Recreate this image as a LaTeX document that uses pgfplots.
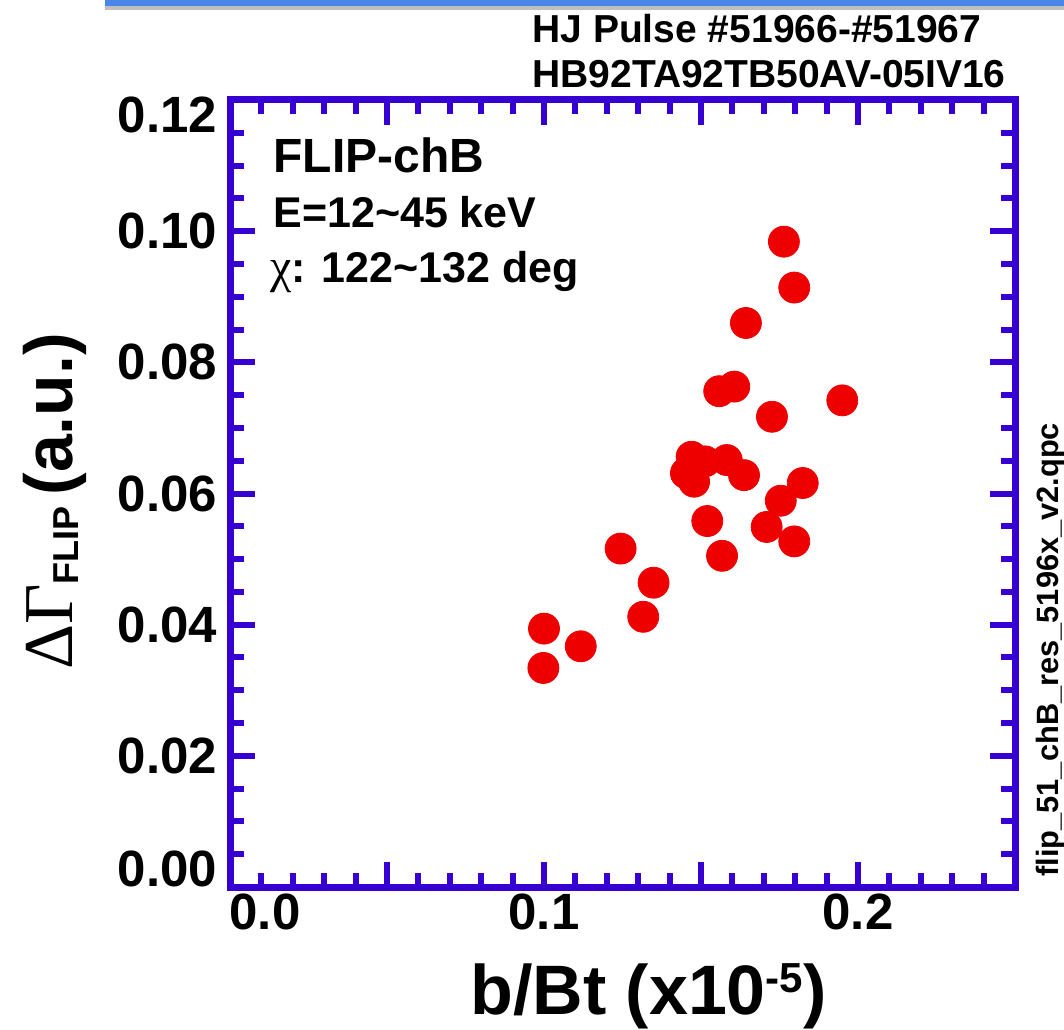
\documentclass[border=0pt]{standalone}
\usepackage{fontspec}
\setmainfont{Liberation Sans}
\newfontfamily\greek{Liberation Serif}
\usepackage{pgfplots}
\pgfplotsset{compat=1.18}
\definecolor{axblue}{RGB}{55,0,210}
\definecolor{ptred}{RGB}{238,0,0}
\definecolor{barblue}{RGB}{74,134,232}

\pgfplotstableread{
x y
0.1764 0.0984
0.1797 0.0914
0.1643 0.0860
0.1558 0.0756
0.1606 0.0763
0.1950 0.0742
0.1726 0.0717
0.1470 0.0656
0.1513 0.0649
0.1582 0.0651
0.1452 0.0631
0.1478 0.0618
0.1637 0.0628
0.1824 0.0616
0.1754 0.0589
0.1520 0.0558
0.1709 0.0549
0.1797 0.0527
0.1567 0.0505
0.1244 0.0516
0.1349 0.0464
0.1316 0.0412
0.1000 0.0394
0.1117 0.0367
0.0998 0.0334
}\flipdata

\begin{document}
\begin{tikzpicture}
\path[use as bounding box] (0,0) rectangle (532pt,514.5pt);
\fill[black!25] (52.5pt,511.5pt) rectangle (532pt,509.5pt);
\fill[barblue] (52.5pt,514.5pt) rectangle (532pt,511.5pt);

\begin{axis}[
  scale only axis,
  width=392.5pt, height=393.5pt,
  at={(115pt,71pt)}, anchor=south west,
  xmin=0, xmax=0.25, ymin=0, ymax=0.12,
  axis line style={axblue, line width=3.5pt},
  tick style={axblue, line width=3pt},
  major tick length=12.5pt,
  minor tick length=7pt,
  tick align=inside,
  xtick pos=both, ytick pos=both,
  xtick={0,0.05,0.1,0.15,0.2,0.25},
  xticklabels={0.0,{},0.1,{},0.2,{}},
  minor x tick num=4,
  ytick={0,0.02,0.04,0.06,0.08,0.10,0.12},
  yticklabels={0.00,0.02,0.04,0.06,0.08,0.10,0.12},
  minor y tick num=3,
  scaled x ticks=false, scaled y ticks=false,
  /pgf/number format/assume math mode=true,
  tick label style={font=\fontsize{25.5}{25.5}\selectfont\bfseries},
  yticklabel style={xshift=-3pt, yshift={ifthenelse(\ticknum==0,9,ifthenelse(\ticknum==6,-7.5,0))}},
  xticklabel style={xshift={ifthenelse(\ticknum==0,17.5,0)}},
]
\addplot[only marks, mark=*, mark size=7.75pt, color=ptred,
  mark options={draw=none, fill=ptred}] table[x=x, y=y] {\flipdata};
\end{axis}

% in-plot annotations
\node[anchor=base west, inner sep=0, font=\fontsize{24}{24}\selectfont\bfseries]
  at (136.5pt,428pt) {FLIP-chB};
\node[anchor=base west, inner sep=0, font=\fontsize{21.5}{21.5}\selectfont\bfseries]
  at (136.5pt,400.5pt) {E=12\textasciitilde45 keV};
\node[anchor=base west, inner sep=0, font=\fontsize{21.5}{21.5}\selectfont\bfseries]
  at (135pt,373pt) {{\greek\mdseries\fontsize{24}{24}\selectfont χ}: 122\textasciitilde132 deg};

% header
\node[anchor=base west, inner sep=0, font=\fontsize{19.5}{19.5}\selectfont\bfseries]
  at (266pt,493pt) {HJ Pulse \#51966-\#51967};
\node[anchor=base west, inner sep=0, font=\fontsize{19.5}{19.5}\selectfont\bfseries]
  at (266pt,470.5pt) {HB92TA92TB50AV-05IV16};

% right side file name
\node[rotate=90, anchor=base west, inner sep=0, font=\fontsize{15.4}{15.4}\selectfont\bfseries]
  at (529pt,76pt) {flip\_51\_chB\_res\_5196x\_v2.qpc};

% y label
\node[rotate=90, anchor=base, inner sep=0] at (36pt,263.75pt)
  {{\greek\fontsize{35}{35}\selectfont ΔΓ}\raisebox{-3pt}{\fontsize{18}{18}\selectfont\bfseries FLIP}\hspace{0.55em}{\fontsize{34}{34}\selectfont\bfseries (a.u.)}};

% x label
\node[anchor=base, inner sep=0] at (324.25pt,7.5pt)
  {\fontsize{35}{35}\selectfont\bfseries b/Bt (x10\raisebox{11pt}{\fontsize{21}{21}\selectfont -5})};
\end{tikzpicture}
\end{document}
